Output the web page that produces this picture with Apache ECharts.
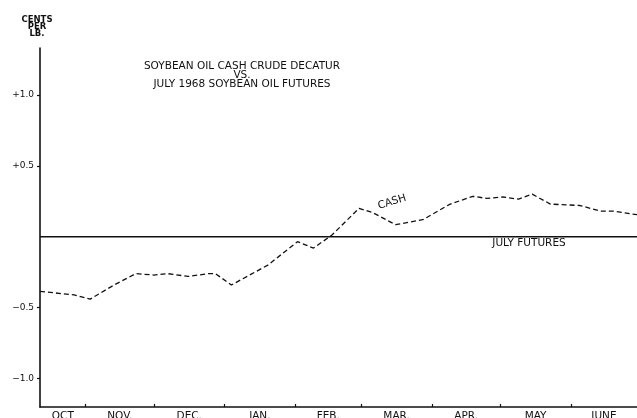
<!DOCTYPE html>
<html>
<head>
<meta charset="utf-8">
<script src="https://cdn.jsdelivr.net/npm/echarts/dist/echarts.min.js"></script>
<style>
  html, body { margin: 0; padding: 0; background: #ffffff; }
  #chart { width: 637px; height: 418px; }
</style>
</head>
<body>
<div id="chart"></div>
<script>
// ---- data (x in days counted from Oct 1, 1967) ----
const cashDays   = [11, 26, 33, 43, 53, 61, 67, 76, 85, 88, 95, 111, 124, 131, 139, 151, 157, 167, 179, 191, 201, 207, 214, 221, 227, 235, 248, 257, 263, 273];
const cashValues = [-0.385, -0.41, -0.44, -0.345, -0.26, -0.27, -0.26, -0.28, -0.26, -0.26, -0.34, -0.20, -0.035, -0.08, 0.01, 0.20, 0.17, 0.085, 0.12, 0.23, 0.285, 0.27, 0.28, 0.265, 0.30, 0.23, 0.22, 0.18, 0.18, 0.155];
const futuresDays   = [11, 273];
const futuresValues = [0, 0];

const monthBoundaryDays = [31, 61, 92, 123, 152, 183, 213, 244];
const monthMidDays = [21, 46, 76.5, 107.5, 137.5, 167.5, 198, 228.5, 258.5];
const monthLabels  = ['OCT', 'NOV.', 'DEC.', 'JAN.', 'FEB.', 'MAR.', 'APR.', 'MAY', 'JUNE'];

const yTickValues = [-1, -0.5, 0.5, 1];
const yTickLabels = ['\u22121.0', '\u22120.5', '+0.5', '+1.0'];

const titleLines = ['SOYBEAN OIL CASH CRUDE DECATUR', 'VS.', 'JULY 1968 SOYBEAN OIL FUTURES'];
const unitLines  = ['CENTS', 'PER', 'LB.'];

const FONT = '"DejaVu Sans", "Liberation Sans", sans-serif';
const INK = '#111111';

const chart = echarts.init(document.getElementById('chart'), null, { renderer: 'canvas' });

const graphics = [];
titleLines.forEach((t, i) => {
  graphics.push({
    type: 'text', x: 242, y: [66.5, 75, 84.5][i],
    style: { text: t, fontFamily: FONT, fontSize: 10.5, fill: INK, align: 'center', verticalAlign: 'middle' }
  });
});
unitLines.forEach((t, i) => {
  graphics.push({
    type: 'text', x: 37, y: [19.5, 27, 34][i],
    style: { text: t, fontFamily: FONT, fontSize: 8.5, fontWeight: 'bold', fill: INK, align: 'center', verticalAlign: 'middle' }
  });
});
graphics.push({
  type: 'text', x: 392, y: 202, rotation: 0.3,
  style: { text: 'CASH', fontFamily: FONT, fontSize: 10.5, fill: INK, align: 'center', verticalAlign: 'middle' }
});
graphics.push({
  type: 'text', x: 529, y: 243,
  style: { text: 'JULY FUTURES', fontFamily: FONT, fontSize: 10.5, fill: INK, align: 'center', verticalAlign: 'middle' }
});

chart.setOption({
  animation: false,
  backgroundColor: '#ffffff',
  grid: { left: 40, right: 0, top: 48, bottom: 11, containLabel: false, outerBoundsMode: 'none' },
  xAxis: {
    type: 'value',
    min: 11, max: 273,
    splitLine: { show: false },
    axisLine: { show: true, onZero: false, lineStyle: { color: INK, width: 1.6 } },
    axisTick: { show: true, inside: true, length: 3, customValues: monthBoundaryDays, lineStyle: { color: INK, width: 1.2 } },
    axisLabel: {
      show: true, customValues: monthMidDays, margin: 4,
      fontFamily: FONT, fontSize: 10.5, color: INK,
      formatter: (v) => { const i = monthMidDays.indexOf(v); return i >= 0 ? monthLabels[i] : ''; }
    }
  },
  yAxis: {
    type: 'value',
    min: -1.2, max: 1.33,
    splitLine: { show: false },
    axisLine: { show: true, onZero: false, lineStyle: { color: INK, width: 1.6 } },
    axisTick: { show: true, length: 3, customValues: yTickValues, lineStyle: { color: INK, width: 1.2 } },
    axisLabel: {
      show: true, customValues: yTickValues, margin: 6,
      fontFamily: FONT, fontSize: 9, color: INK,
      formatter: (v) => { const i = yTickValues.indexOf(v); return i >= 0 ? yTickLabels[i] : ''; }
    }
  },
  graphic: graphics,
  series: [
    {
      name: 'July Futures', type: 'line',
      data: futuresDays.map((d, i) => [d, futuresValues[i]]),
      showSymbol: false, symbol: 'none',
      lineStyle: { color: INK, width: 1.6, type: 'solid' },
      z: 3
    },
    {
      name: 'Cash', type: 'line',
      data: cashDays.map((d, i) => [d, cashValues[i]]),
      showSymbol: false, symbol: 'none',
      lineStyle: { color: INK, width: 1.3, type: [5, 3] },
      z: 4
    }
  ]
});
</script>
</body>
</html>
